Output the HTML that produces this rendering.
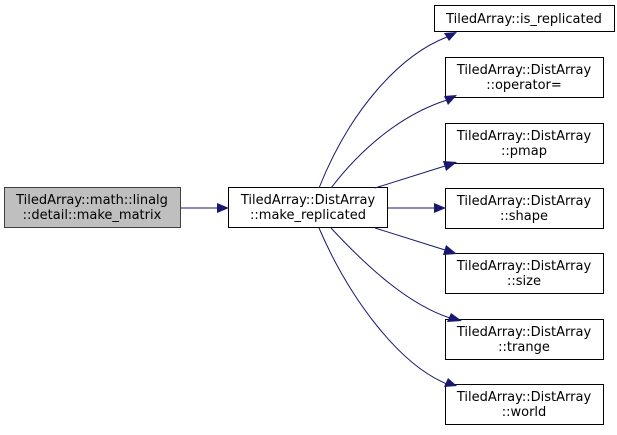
<!DOCTYPE html>
<html><head><style>body{margin:0;background:#fff}</style></head><body>
<svg width="617" height="430" xmlns="http://www.w3.org/2000/svg" font-family="DejaVu Sans, sans-serif" font-size="13">
<g stroke="#000" stroke-width="1">
<rect x="4.5" y="187.5" width="176" height="40" fill="#bfbfbf" stroke="#404040"/>
<rect x="228.5" y="187.5" width="159" height="40" fill="#fff"/>
<rect x="434.5" y="5.5" width="180" height="26" fill="#fff"/>
<rect x="445.5" y="57.5" width="158" height="40" fill="#fff"/>
<rect x="445.5" y="123.5" width="158" height="40" fill="#fff"/>
<rect x="445.5" y="188.5" width="158" height="40" fill="#fff"/>
<rect x="445.5" y="253.5" width="158" height="40" fill="#fff"/>
<rect x="445.5" y="319.5" width="158" height="40" fill="#fff"/>
<rect x="445.5" y="384.5" width="158" height="40" fill="#fff"/>
</g>
<g fill="none" stroke="#191970" stroke-width="1">
<path d="M181 208 H217"/>
<path d="M388 208 H434"/>
<path d="M319 188 C350 110 400 55 447 37"/>
<path d="M331 188 C360 150 400 115 447 100"/>
<path d="M375 188 L445 166"/>
<path d="M375 228 L445 250"/>
<path d="M331 228 C370 270 410 305 450 318"/>
<path d="M319 228 C350 300 400 365 447 384"/>
</g>
<g fill="#191970">
<polygon points="229,208 217,203 217,213"/>
<polygon points="446,208 434,203 434,213"/>
<polygon points="457,32 444,33 449,41"/>
<polygon points="457,95 444,96 448,105"/>
<polygon points="457,162 443,161 446,171"/>
<polygon points="457,254 446,245 443,255"/>
<polygon points="462,321 451,313 447,322"/>
<polygon points="457,386 448,378 444,387"/>
</g>
<g text-anchor="middle" fill="#000">
<text x="92" y="204">TiledArray::math::linalg</text>
<text x="92" y="219">::detail::make_matrix</text>
<text x="308" y="204">TiledArray::DistArray</text>
<text x="308" y="219">::make_replicated</text>
<text x="524" y="23">TiledArray::is_replicated</text>
<text x="524" y="74">TiledArray::DistArray</text><text x="524" y="89">::operator=</text>
<text x="524" y="140">TiledArray::DistArray</text><text x="524" y="155">::pmap</text>
<text x="524" y="205">TiledArray::DistArray</text><text x="524" y="220">::shape</text>
<text x="524" y="270">TiledArray::DistArray</text><text x="524" y="285">::size</text>
<text x="524" y="336">TiledArray::DistArray</text><text x="524" y="351">::trange</text>
<text x="524" y="401">TiledArray::DistArray</text><text x="524" y="416">::world</text>
</g>
</svg>
</body></html>
